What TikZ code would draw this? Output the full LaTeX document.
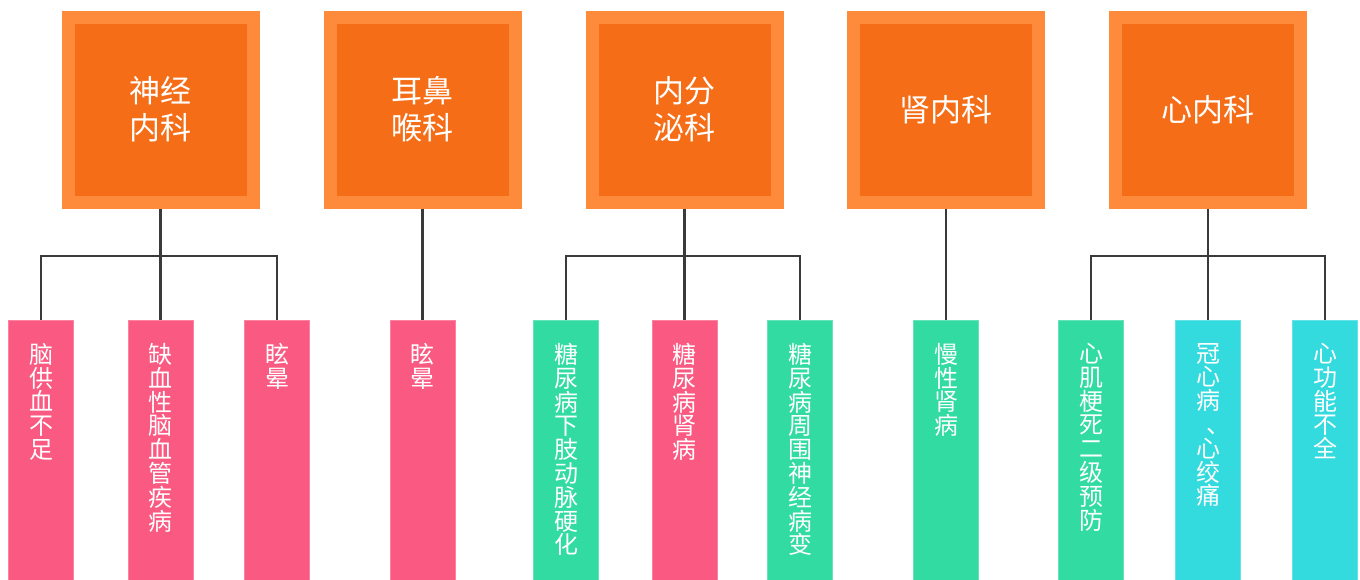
\documentclass[tikz,border=0pt]{standalone}
\usepackage{fontspec}
\newfontfamily\cjk{Noto Sans CJK SC}
\definecolor{orgfill}{HTML}{F56D17}
\definecolor{orgline}{HTML}{FE8A3C}
\definecolor{pinkc}{HTML}{FA5A82}
\definecolor{greenc}{HTML}{31DBA1}
\definecolor{cyanc}{HTML}{33DADE}
\definecolor{connc}{HTML}{3A3A3A}
\tikzset{
  dept/.style={draw=orgline, line width=13pt, fill=orgfill, minimum width=185pt, minimum height=185pt,
    inner sep=0pt, align=center, text=white, font=\cjk\fontsize{31}{37}\selectfont},
  leaf/.style={draw=#1!75!white, line width=1pt, fill=#1, minimum width=65pt, minimum height=262pt, anchor=north, inner sep=0pt},
  leaftext/.style={anchor=north, inner sep=0pt, align=center, text=white, font=\cjk\fontsize{24}{23.8}\selectfont},
  conn/.style={draw=connc, line width=2.5pt}
}
\begin{document}
\begin{tikzpicture}[x=1pt,y=-1pt]
\useasboundingbox (0,0) rectangle (1360,579);
% departments
\node[dept] (d1) at (160.5,109.5) {神经\\内科};
\node[dept] (d2) at (422.5,109.5) {耳鼻\\喉科};
\node[dept] (d3) at (684.5,109.5) {内分\\泌科};
\node[dept] (d4) at (946,109.5) {肾内科};
\node[dept] (d5) at (1208,109.5) {心内科};
% leaves
\node[leaf=pinkc] (c1) at (41,320) {};
\node[leaf=pinkc] (c2) at (160.5,320) {};
\node[leaf=pinkc] (c3) at (277,320) {};
\node[leaf=pinkc] (c4) at (422.5,320) {};
\node[leaf=greenc] (c5) at (566,320) {};
\node[leaf=pinkc] (c6) at (684.5,320) {};
\node[leaf=greenc] (c7) at (800,320) {};
\node[leaf=greenc] (c8) at (946,320) {};
\node[leaf=greenc] (c9) at (1091,320) {};
\node[leaf=cyanc] (c10) at (1208,320) {};
\node[leaf=cyanc] (c11) at (1325,320) {};
% leaf texts
\node[leaftext] (t1) at (41,343) {脑\\供\\血\\不\\足};
\node[leaftext] (t2) at (160.5,343) {缺\\血\\性\\脑\\血\\管\\疾\\病};
\node[leaftext] (t3) at (277,343) {眩\\晕};
\node[leaftext] (t4) at (422.5,343) {眩\\晕};
\node[leaftext] (t5) at (566,343) {糖\\尿\\病\\下\\肢\\动\\脉\\硬\\化};
\node[leaftext] (t6) at (684.5,343) {糖\\尿\\病\\肾\\病};
\node[leaftext] (t7) at (800,343) {糖\\尿\\病\\周\\围\\神\\经\\病\\变};
\node[leaftext] (t8) at (946,343) {慢\\性\\肾\\病};
\node[leaftext] (t9) at (1091,343) {心\\肌\\梗\\死\\二\\级\\预\\防};
\node[leaftext] (t10) at (1208,343) {冠\\心\\病\\\kern0.45em 、\kern-0.45em\\心\\绞\\痛};
\node[leaftext] (t11) at (1325,343) {心\\功\\能\\不\\全};
% buses
\coordinate (b1) at (160.5,256);
\coordinate (b3) at (684.5,256);
\coordinate (b5) at (1208,256);
% connectors
\draw[conn] (d1.south) -- (c2.north);
\draw[conn] (c1.north) |- (b1) -| (c3.north);
\draw[conn] (d2.south) -- (c4.north);
\draw[conn] (d3.south) -- (c6.north);
\draw[conn] (c5.north) |- (b3) -| (c7.north);
\draw[conn] (d4.south) -- (c8.north);
\draw[conn] (d5.south) -- (c10.north);
\draw[conn] (c9.north) |- (b5) -| (c11.north);
\end{tikzpicture}
\end{document}
